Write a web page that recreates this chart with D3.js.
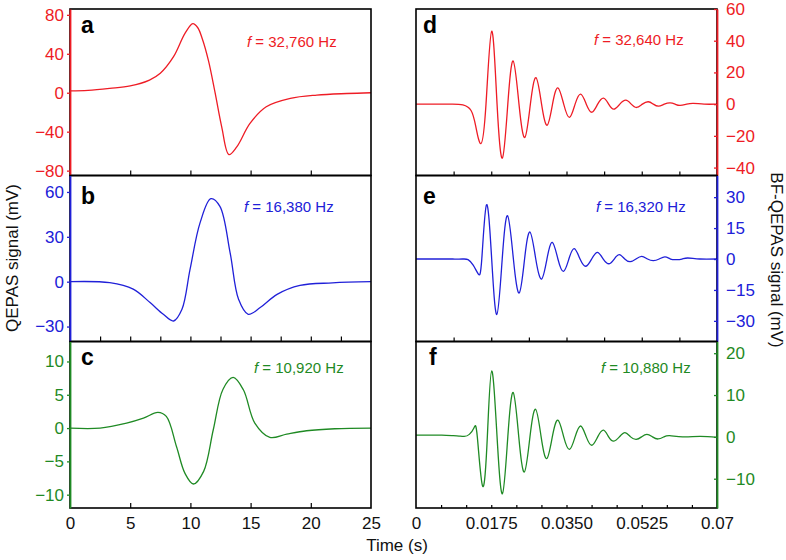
<!DOCTYPE html>
<html><head><meta charset="utf-8">
<script src="https://cdn.jsdelivr.net/npm/d3@7"></script>
<style>
html,body{margin:0;padding:0;background:#fff;}
svg{display:block;font-family:"Liberation Sans",Arial,Helvetica,sans-serif;}
</style></head>
<body>
<svg id="chart" width="786" height="560"></svg>
<script>
// ---------- DATA ----------
// Left column: QEPAS signal, time in s
const tA = [0, 1.5, 3.3, 5.0, 6.6, 7.5, 8.6, 9.55, 10.2, 10.6, 11.0, 11.5, 12.05, 12.6, 13.2, 13.85, 14.95, 16.3, 18.3, 20.5, 23, 25];
const vA = [2, 2.5, 4.5, 7, 13, 20, 37, 61, 71, 67, 55, 33, 0, -35, -63.5, -55.6, -31.5, -14.4, -5.8, -2.4, -0.8, 0];

const tB = [0, 3.3, 5.25, 6.65, 7.75, 8.6, 9.3, 9.97, 10.8, 11.7, 12.45, 13.3, 14.0, 14.8, 15.8, 17.2, 19.1, 21.8, 25];
const vB = [0, -0.7, -5, -14, -21.8, -26.3, -18.5, 8.2, 39.3, 55.5, 50.4, 19.3, -11.8, -21.8, -17.3, -8.5, -2.5, -0.8, 0];

const tC = [0, 2.5, 4.7, 6.1, 7.3, 8.0, 8.85, 9.55, 10.25, 11.1, 11.9, 12.7, 13.55, 14.4, 15.35, 16.6, 18, 19.65, 22, 25];
const vC = [0, 0, 0.75, 1.5, 2.35, 1.75, -2.8, -6.8, -8.4, -6.5, -0.25, 5.8, 7.6, 5.75, 0.75, -1.4, -0.9, -0.4, -0.1, 0];

// Right column: BF-QEPAS signal, time in s
const tD = [0, 0.003, 0.006, 0.0085, 0.0109, 0.0128, 0.0139, 0.0151, 0.01628, 0.0176, 0.01885, 0.0201, 0.02135, 0.0226, 0.02395, 0.0253, 0.0266, 0.0279, 0.0292, 0.0305, 0.03175, 0.0330, 0.03435, 0.0357, 0.0370, 0.0383, 0.0396, 0.0409, 0.04225, 0.0436, 0.0448, 0.0460, 0.0474, 0.0488, 0.05005, 0.0513, 0.05265, 0.0540, 0.0552, 0.0564, 0.05775, 0.0591, 0.06025, 0.0614, 0.06295, 0.0645, 0.067, 0.070];
const vD = [0, 0, 0, 0, -0.5, -4, -14, -24.9, 0, 46, 0, -34, 0, 27.2, 0, -21, 0, 16.7, 0, -13.3, 0, 10.3, 0, -8.4, 0, 6.3, 0, -5.1, 0, 3.8, 0, -3.2, 0, 2.5, 0, -2.1, 0, 1.5, 0, -1.3, 0, 0.8, 0, -0.8, 0, 0.5, 0, 0];

const tE = [0, 0.003, 0.006, 0.0085, 0.0108, 0.0121, 0.0133, 0.0145, 0.0153, 0.0164, 0.0176, 0.0188, 0.02005, 0.0213, 0.02265, 0.0240, 0.02525, 0.0265, 0.02785, 0.0292, 0.03045, 0.0317, 0.0330, 0.0343, 0.03555, 0.0368, 0.03815, 0.0395, 0.04085, 0.0422, 0.04355, 0.0449, 0.0461, 0.0473, 0.04855, 0.0498, 0.05115, 0.0525, 0.05385, 0.0552, 0.05655, 0.0579, 0.0592, 0.0605, 0.06185, 0.0632, 0.066, 0.070];
const vE = [0, 0, 0, 0, 0, -0.3, -3, -7.3, 0, 26.3, 0, -26.9, 0, 21, 0, -16.5, 0, 13.1, 0, -9.7, 0, 8.1, 0, -6, 0, 5, 0, -3.5, 0, 3.2, 0, -2.3, 0, 2.1, 0, -1.3, 0, 1.3, 0, -0.8, 0, 1.0, 0, -0.3, 0, 0.5, 0, 0];

const tF = [0, 0.003, 0.006, 0.0085, 0.0100, 0.0112, 0.0124, 0.0135, 0.01426, 0.0155, 0.01659, 0.0176, 0.01885, 0.0201, 0.02135, 0.0226, 0.0239, 0.0252, 0.0265, 0.0278, 0.0291, 0.0304, 0.0317, 0.0330, 0.03435, 0.0357, 0.0370, 0.0383, 0.0396, 0.0409, 0.04225, 0.0436, 0.0448, 0.0460, 0.0473, 0.0486, 0.0499, 0.0512, 0.05245, 0.0537, 0.055, 0.0563, 0.05765, 0.0590, 0.062, 0.066, 0.070];
const vF = [0.4, 0.4, 0.4, 0.3, 0.2, 0.1, 0.6, 2.2, 0, -11.8, 0, 15.8, 0, -13.6, 0, 10.6, 0, -8.4, 0, 6.6, 0, -5.2, 0, 4, 0, -3, 0, 2.6, 0, -2, 0, 1.6, 0, -1.0, 0, 1.0, 0, -0.6, 0, 0.6, 0, -0.5, 0, 0.3, 0, 0.1, -0.1];

// tick values / labels
const yTicksA = [-80, -40, 0, 40, 80];
const yTicksB = [-30, 0, 30, 60];
const yTicksC = [-10, -5, 0, 5, 10];
const yTicksD = [-40, -20, 0, 20, 40, 60];
const yTicksE = [-30, -15, 0, 15, 30];
const yTicksF = [-10, 0, 10, 20];
const xTicksLeft = [0, 5, 10, 15, 20, 25];
const xTicksLeftInner = [5, 10, 15, 20];
const xTicksLeftHalf = [2.5, 5, 7.5, 10, 12.5, 15, 17.5, 20, 22.5];
const xTicksRight = [0, 0.0175, 0.035, 0.0525, 0.07];
const xTickLabelsRight = ["0", "0.0175", "0.0350", "0.0525", "0.07"];
const xTicksRightHalf = [0.00875, 0.0175, 0.02625, 0.035, 0.04375, 0.0525, 0.06125];
const xTicksRightThird = [0.005833, 0.011667, 0.0175, 0.023333, 0.029167, 0.035, 0.040833, 0.046667, 0.0525, 0.058333, 0.064167];

const panelLetters = ["a", "b", "c", "d", "e", "f"];
const freqLabels = ["32,760 Hz", "16,380 Hz", "10,920 Hz", "32,640 Hz", "16,320 Hz", "10,880 Hz"];
const colors = ["#ee1c25", "#2020d8", "#1f8a24"];

// ---------- LAYOUT ----------
const svg = d3.select("#chart");
const L0 = 70, L1 = 371, R0 = 416, R1 = 717;
const rows = [[9, 175.5], [175.5, 341.5], [341.5, 508]];
const FS = 17;

const xLeft = d3.scaleLinear().domain([0, 25]).range([L0, L1]);
const xRight = d3.scaleLinear().domain([0, 0.07]).range([R0, R1]);

const panels = [
  {t: tA, v: vA, dom: [-85, 86], ticks: yTicksA, side: "left", row: 0, bt: xTicksLeftInner, btl: 5, letterX: 81, freqX: 247, freqY: 47},
  {t: tB, v: vB, dom: [-40, 71], ticks: yTicksB, side: "left", row: 1, bt: xTicksLeftHalf, btl: 5, letterX: 81, freqX: 244, freqY: 212},
  {t: tC, v: vC, dom: [-12, 13], ticks: yTicksC, side: "left", row: 2, bt: xTicksLeftInner, btl: 5, letterX: 81, freqX: 254, freqY: 373},
  {t: tD, v: vD, dom: [-45, 60], ticks: yTicksD, side: "right", row: 0, bt: xTicksRightHalf, btl: 4, letterX: 423, freqX: 594, freqY: 45},
  {t: tE, v: vE, dom: [-40, 40.5], ticks: yTicksE, side: "right", row: 1, bt: xTicksRightHalf, btl: 4, letterX: 423, freqX: 596, freqY: 212},
  {t: tF, v: vF, dom: [-17, 22.8], ticks: yTicksF, side: "right", row: 2, bt: xTicksRightThird, btl: 3, letterX: 429, freqX: 601, freqY: 373}
];
const letterY = [33, 204, 365];

panels.forEach((p, i) => {
  const color = colors[p.row];
  const [top, bot] = rows[p.row];
  const x = p.side === "left" ? xLeft : xRight;
  const y = d3.scaleLinear().domain(p.dom).range([bot, top]);
  const g = svg.append("g");

  // curve
  const line = d3.line()
    .x(d => x(d[0])).y(d => y(d[1]))
    .curve(p.side === "left" ? d3.curveCatmullRom.alpha(0.5) : d3.curveNatural);
  g.append("path")
    .datum(p.t.map((tt, k) => [tt, p.v[k]]))
    .attr("d", line)
    .attr("fill", "none")
    .attr("stroke", color)
    .attr("stroke-width", 1.3)
    .attr("stroke-linejoin", "round");

  // frame
  g.append("rect")
    .attr("x", x.range()[0]).attr("y", top)
    .attr("width", x.range()[1] - x.range()[0]).attr("height", bot - top)
    .attr("fill", "none").attr("stroke", "#000").attr("stroke-width", 1.6);

  // bottom inward ticks
  const bx = d3.axisBottom(x).tickValues(p.bt).tickSize(-p.btl).tickSizeOuter(0).tickFormat("");
  const bg = g.append("g").attr("transform", `translate(0,${bot})`).call(bx);
  bg.select(".domain").remove();
  bg.selectAll(".tick line").attr("stroke", "#000").attr("stroke-width", 1.2);

  // y axis (colored)
  let ya;
  if (p.side === "left") {
    ya = d3.axisLeft(y).tickValues(p.ticks).tickSize(3).tickPadding(3).tickSizeOuter(0);
  } else {
    ya = d3.axisRight(y).tickValues(p.ticks).tickSize(-3).tickPadding(9).tickSizeOuter(0);
  }
  const yg = g.append("g")
    .attr("transform", `translate(${p.side === "left" ? L0 : R1},0)`)
    .call(ya);
  yg.select(".domain").attr("stroke", color).attr("stroke-width", 1.8);
  yg.selectAll(".tick line").attr("stroke", color).attr("stroke-width", 1.3);
  yg.selectAll(".tick text").attr("fill", color).attr("font-size", FS)
    .attr("font-family", "Liberation Sans, Arial, sans-serif");

  // panel letter
  g.append("text").attr("x", p.letterX).attr("y", letterY[p.row])
    .attr("font-size", 23).attr("font-weight", "bold").attr("fill", "#000")
    .text(panelLetters[i]);

  // frequency label
  const ft = g.append("text").attr("x", p.freqX).attr("y", p.freqY)
    .attr("font-size", 15).attr("fill", color);
  ft.append("tspan").attr("font-style", "italic").text("f");
  ft.append("tspan").text(" = " + freqLabels[i]);
});

// bottom x labels
const axL = d3.axisBottom(xLeft).tickValues(xTicksLeft).tickSize(0).tickPadding(9).tickFormat(d3.format("d"));
const gl = svg.append("g").attr("transform", `translate(0,${rows[2][1]})`).call(axL);
gl.select(".domain").remove();
gl.selectAll("text").attr("font-size", FS).attr("fill", "#111").attr("font-family", "Liberation Sans, Arial, sans-serif");

const axR = d3.axisBottom(xRight).tickValues(xTicksRight).tickSize(0).tickPadding(9)
  .tickFormat((d, k) => xTickLabelsRight[k]);
const gr = svg.append("g").attr("transform", `translate(0,${rows[2][1]})`).call(axR);
gr.select(".domain").remove();
gr.selectAll("text").attr("font-size", FS).attr("fill", "#111").attr("font-family", "Liberation Sans, Arial, sans-serif");

// axis titles
svg.append("text").attr("transform", "translate(18,258) rotate(-90)")
  .attr("text-anchor", "middle").attr("font-size", 17).attr("fill", "#111")
  .text("QEPAS signal (mV)");
svg.append("text").attr("transform", "translate(771,260) rotate(90)")
  .attr("text-anchor", "middle").attr("font-size", 17).attr("fill", "#111")
  .text("BF-QEPAS signal (mV)");
svg.append("text").attr("x", 397).attr("y", 551)
  .attr("text-anchor", "middle").attr("font-size", 17).attr("fill", "#111")
  .text("Time (s)");
</script>
</body></html>
